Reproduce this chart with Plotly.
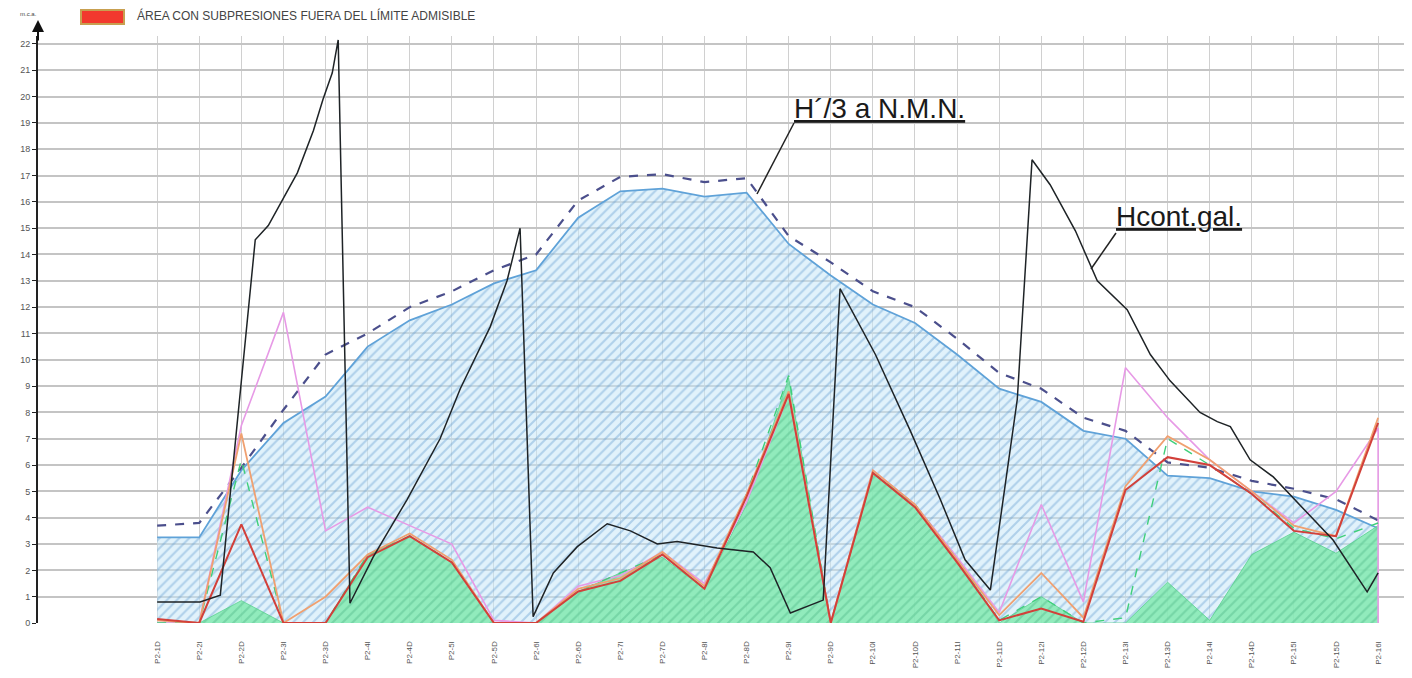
import plotly.graph_objects as go

# ---------------- data ----------------
categories = ["P2-1D", "P2-2I", "P2-2D", "P2-3I", "P2-3D", "P2-4I", "P2-4D", "P2-5I", "P2-5D", "P2-6I",
              "P2-6D", "P2-7I", "P2-7D", "P2-8I", "P2-8D", "P2-9I", "P2-9D", "P2-10I", "P2-10D", "P2-11I",
              "P2-11D", "P2-12I", "P2-12D", "P2-13I", "P2-13D", "P2-14I", "P2-14D", "P2-15I", "P2-15D", "P2-16I"]
cat_x = list(range(len(categories)))

# limit (blue hatched area)
limite = [3.25, 3.25, 5.8, 7.6, 8.6, 10.5, 11.5, 12.1, 12.9, 13.4,
          15.4, 16.4, 16.5, 16.2, 16.35, 14.4, 13.2, 12.1, 11.4, 10.2,
          8.9, 8.4, 7.3, 7.0, 5.6, 5.5, 5.0, 4.8, 4.3, 3.6]
# H'/3 a N.M.N. (dashed)
h3_nmn = [3.7, 3.8, 5.9, 8.1, 10.2, 11.0, 12.0, 12.6, 13.4, 14.0,
          16.05, 16.95, 17.05, 16.75, 16.9, 14.7, 13.7, 12.6, 12.0, 10.8,
          9.5, 8.9, 7.8, 7.3, 6.1, 5.9, 5.4, 5.1, 4.7, 3.9]
# green hatched area
verde = [0.0, 0.0, 0.85, 0.0, 0.0, 2.6, 3.3, 2.3, 0.0, 0.0,
         1.2, 1.9, 2.5, 1.3, 4.5, 9.3, 0.0, 5.7, 4.5, 2.5,
         0.0, 1.0, 0.0, 0.0, 1.55, 0.1, 2.6, 3.45, 2.65, 3.7]
# red line
rojo = [0.15, 0.0, 3.75, 0.0, 0.0, 2.5, 3.3, 2.3, 0.0, 0.0,
        1.2, 1.6, 2.6, 1.3, 4.8, 8.7, 0.0, 5.7, 4.4, 2.3,
        0.1, 0.55, 0.05, 5.05, 6.3, 6.0, 4.9, 3.5, 3.3, 7.6]
# orange line
naranja = [0.1, 0.0, 7.2, 0.0, 1.0, 2.6, 3.4, 2.4, 0.0, 0.0,
           1.3, 1.7, 2.7, 1.4, 4.9, 8.8, 0.0, 5.8, 4.5, 2.4,
           0.3, 1.9, 0.2, 5.2, 7.1, 6.2, 5.0, 3.7, 3.3, 7.8]
# pink line
rosa_x = cat_x + [29]
rosa = [0.0, 0.0, 7.5, 11.8, 3.5, 4.4, 3.7, 3.0, 0.1, 0.0,
        1.4, 1.8, 2.7, 1.5, 4.6, 8.7, 0.0, 5.8, 4.5, 2.5,
        0.4, 4.5, 0.8, 9.7, 7.8, 6.2, 5.0, 3.8, 5.0, 7.4, 0.0]
# green dashed line
verde_disc = [0.0, 0.0, 6.2, 0.0, 0.0, 2.6, 3.3, 2.3, 0.0, 0.0,
              1.2, 1.9, 2.6, 1.3, 4.9, 9.4, 0.0, 5.7, 4.5, 2.4,
              0.1, 1.0, 0.0, 0.2, 7.0, 6.0, 4.9, 3.6, 3.2, 3.8]
# black line Hcont.gal. (x positions in category units)
hcont_x = [0.0, 1.02, 1.50, 2.33, 2.64, 2.99, 3.33, 3.71, 3.94, 4.16, 4.30, 4.58, 5.13, 5.94, 6.72,
           7.20, 7.91, 8.31, 8.62, 8.93, 9.41, 9.98, 10.69, 11.24, 11.88, 12.35, 13.30, 14.16, 14.56,
           15.04, 15.82, 16.22, 17.06, 17.89, 18.60, 19.19, 19.79, 20.43, 20.78, 21.21, 21.81, 22.33,
           23.04, 23.59, 24.06, 24.77, 25.18, 25.49, 25.96, 26.51, 27.93, 28.74, 29.0]
hcont_y = [0.8, 0.8, 1.06, 14.56, 15.1, 16.1, 17.1, 18.7, 19.9, 20.9, 22.15, 0.75, 2.5, 4.7, 7.0,
           8.9, 11.25, 13.0, 15.0, 0.24, 1.9, 2.9, 3.77, 3.5, 3.0, 3.1, 2.85, 2.7, 2.1,
           0.38, 0.87, 12.7, 10.2, 7.3, 4.7, 2.4, 1.25, 8.5, 17.6, 16.65, 14.9, 13.0,
           11.9, 10.2, 9.2, 8.0, 7.65, 7.46, 6.2, 5.55, 3.15, 1.18, 1.9]

y_ticks = list(range(0, 23))

# ---------------- layout geometry ----------------
# the page body adds an 8px offset, so the figure is sized to fit the window
W, H = 1404, 670
ML, MR, MT, MB = 30, 4, 28, 55
X0, X1 = -2.83, 29.71
Y0, Y1 = 0, 22.3
PW, PH = W - ML - MR, H - MT - MB
SX, SY = ML + 8, MT + 8          # screen pixel of plot top-left
BOT = SY + PH                    # screen pixel of y = 0


def dx(px):
    return X0 + (px - SX) / PW * (X1 - X0)


def dy(py):
    return Y0 + (BOT - py) / PH * (Y1 - Y0)


def paper_x(px):
    return (px - SX) / PW


def paper_y(py):
    return (BOT - py) / PH


fig = go.Figure()

fig.add_trace(go.Scatter(
    x=cat_x, y=limite, mode="lines", fill="tozeroy",
    line=dict(color="#5fa2d8", width=1.8),
    fillpattern=dict(shape="/", bgcolor="rgba(200,230,247,0.55)", fgcolor="rgba(90,150,205,0.75)",
                     size=7, solidity=0.3),
    hoverinfo="skip", showlegend=False))

fig.add_trace(go.Scatter(
    x=cat_x, y=verde, mode="lines", fill="tozeroy",
    line=dict(color="#58d08e", width=0.8),
    fillpattern=dict(shape="/", bgcolor="rgba(125,234,172,0.8)", fgcolor="rgba(85,185,130,0.7)",
                     size=7, solidity=0.3),
    hoverinfo="skip", showlegend=False))

fig.add_trace(go.Scatter(
    x=cat_x, y=h3_nmn, mode="lines",
    line=dict(color="#4b4f8c", width=2.2, dash="dash"),
    hoverinfo="skip", showlegend=False))

fig.add_trace(go.Scatter(
    x=rosa_x, y=rosa, mode="lines",
    line=dict(color="#e79ae6", width=1.6),
    hoverinfo="skip", showlegend=False))

fig.add_trace(go.Scatter(
    x=cat_x, y=verde_disc, mode="lines",
    line=dict(color="#3fcf7a", width=1.4, dash="dash"),
    hoverinfo="skip", showlegend=False))

fig.add_trace(go.Scatter(
    x=cat_x, y=naranja, mode="lines",
    line=dict(color="#f0a070", width=1.8),
    hoverinfo="skip", showlegend=False))

fig.add_trace(go.Scatter(
    x=cat_x, y=rojo, mode="lines",
    line=dict(color="#d2403a", width=2),
    hoverinfo="skip", showlegend=False))

fig.add_trace(go.Scatter(
    x=hcont_x, y=hcont_y, mode="lines",
    line=dict(color="#1e2326", width=1.5),
    hoverinfo="skip", showlegend=False))

shapes = [
    # legend swatch
    dict(type="rect", xref="paper", yref="paper", x0=paper_x(81), x1=paper_x(124), y0=paper_y(24), y1=paper_y(10),
         fillcolor="#f2392e", line=dict(color="#c8a050", width=2)),
    # leader lines
    dict(type="line", xref="x", yref="y", x0=dx(794), y0=dy(123), x1=dx(757), y1=dy(194),
         line=dict(color="#222", width=1.5)),
    dict(type="line", xref="x", yref="y", x0=dx(1116), y0=dy(233), x1=dx(1091), y1=dy(269),
         line=dict(color="#222", width=1.5)),
]

annotations = [
    dict(xref="paper", yref="paper", x=paper_x(135), y=paper_y(16), text="ÁREA CON SUBPRESIONES FUERA DEL LÍMITE ADMISIBLE",
         showarrow=False, xanchor="left", yanchor="middle",
         font=dict(family="Liberation Sans, Arial", size=12, color="#444")),
    dict(xref="paper", yref="paper", x=paper_x(28), y=paper_y(14), text="m.c.a.",
         showarrow=False, xanchor="center", yanchor="middle",
         font=dict(family="Liberation Sans, Arial", size=6, color="#444")),
    # axis arrow
    dict(xref="paper", yref="paper", x=0, y=paper_y(20), ax=0, ay=22, axref="pixel", ayref="pixel",
         text="", showarrow=True, arrowhead=2, arrowsize=1.2, arrowwidth=2, arrowcolor="#111"),
    dict(xref="x", yref="y", x=dx(792), y=dy(108), text="<u>H´/3 a N.M.N.</u>",
         showarrow=False, xanchor="left", yanchor="middle",
         font=dict(family="Liberation Sans, Arial", size=28, color="#1a1a1a")),
    dict(xref="x", yref="y", x=dx(1114), y=dy(216), text="<u>Hcont.gal.</u>",
         showarrow=False, xanchor="left", yanchor="middle",
         font=dict(family="Liberation Sans, Arial", size=28, color="#1a1a1a")),
]

fig.update_layout(
    width=W, height=H,
    margin=dict(l=ML, r=MR, t=MT, b=MB, autoexpand=False),
    paper_bgcolor="white", plot_bgcolor="white",
    shapes=shapes, annotations=annotations,
    xaxis=dict(range=[X0, X1], tickmode="array", tickvals=cat_x, ticktext=categories,
               tickangle=-90, tickfont=dict(family="Liberation Sans, Arial", size=8, color="#555"),
               showgrid=True, gridcolor="#d0d0d0", gridwidth=1.3, zeroline=False, showline=False,
               ticks="outside", ticklen=14, tickcolor="rgba(0,0,0,0)", automargin=False),
    yaxis=dict(range=[Y0, Y1], tickmode="array", tickvals=y_ticks,
               tickfont=dict(family="Liberation Sans, Arial", size=9, color="#555"),
               showgrid=True, gridcolor="#c4c4c4", gridwidth=1.5, zeroline=False,
               showline=True, linecolor="#222", linewidth=2, ticks="outside", ticklen=4,
               tickcolor="#222", automargin=False),
)

fig.write_html("out.html")
